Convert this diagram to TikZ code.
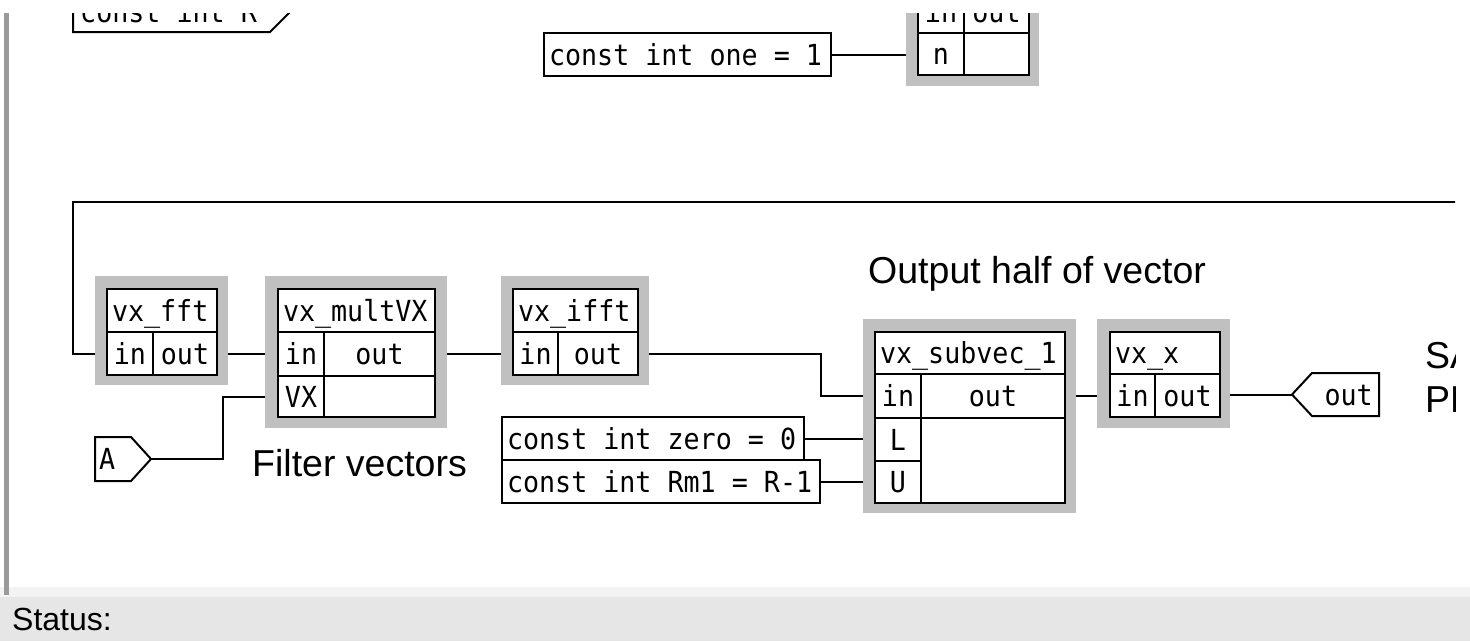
\documentclass[tikz,border=0pt]{standalone}
\usepackage{fontspec}
\newfontfamily\pxmono[FakeStretch=0.92]{DejaVu Sans Mono}
\newfontfamily\pxsans{Liberation Sans}
\newcommand\mspc{\char"A0\relax}
\usetikzlibrary{calc}
\definecolor{shade}{HTML}{C0C0C0}
\definecolor{statusbg}{HTML}{E6E6E6}
\definecolor{bandbg}{HTML}{F3F3F3}
\definecolor{barcol}{HTML}{9A9A9A}
\tikzset{
 shadowbox/.style={fill=shade, draw=none, inner sep=0pt, anchor=north west},
 cellbase/.style={draw=black, line width=2pt, fill=white, anchor=north west, font=\fontsize{29pt}{32pt}\pxmono, text height=21pt, text depth=0pt},
 cellL/.style={cellbase, inner xsep=5pt, inner ysep=0pt, align=left},
 cellC/.style={cellbase, inner sep=0pt},
 wire/.style={line width=2pt, draw=black},
 portline/.style={line width=2pt, draw=black, line join=miter},
 monotext/.style={font=\fontsize{29pt}{32pt}\pxmono, inner sep=0pt},
 sanslabel/.style={font=\fontsize{37.5pt}{40pt}\pxsans, inner sep=0pt},
}
\begin{document}
\begin{tikzpicture}[x=1pt,y=-1pt]
\useasboundingbox (0,0) rectangle (1470,641);
\fill[white] (0,0) rectangle (1470,641);
\fill[bandbg] (0,587) rectangle (1470,597);
\fill[statusbg] (0,597) rectangle (1470,641);
\fill[barcol] (4,13) rectangle (9,595);
\node[font=\fontsize{32pt}{35pt}\pxsans, anchor=base west, inner sep=0pt] (status) at (12,630) {Status:};
\begin{scope}
\clip (9,13) rectangle (1455,587);
% top-left constant (cut off)
\draw[portline] (73,-30) -- (73,32) -- (270,32) -- (302,0);
\node[monotext, anchor=base west] (constR) at (80,22) {const\mspc int\mspc R};
% const one
\node[cellL, text width=277pt, minimum height=43pt] (one) at (543,32) {const\mspc int\mspc one\mspc =\mspc 1};
% top block (cut off)
\node[shadowbox, minimum width=133pt, minimum height=130pt] (top) at (906,-44) {};
\node[cellC, minimum width=46pt, minimum height=42pt] (topIn) at (917,-10) {in};
\node[cellC, minimum width=65pt, minimum height=42pt] (topOut) at (963,-10) {out};
\node[cellC, minimum width=46pt, minimum height=42pt] (topN) at (917,32) {n};
\node[cellC, minimum width=65pt, minimum height=42pt] (topE) at (963,32) {};
\draw[wire] (one.east) -- (top.west |- one.east);
% vx_fft
\node[shadowbox, minimum width=133pt, minimum height=109pt] (fft) at (95,276) {};
\node[cellL, text width=100pt, minimum height=43pt] (fftT) at (106,288) {vx\_fft};
\node[cellC, minimum width=46pt, minimum height=43pt] (fftIn) at (106,331) {in};
\node[cellC, minimum width=64pt, minimum height=43pt] (fftOut) at (152,331) {out};
% vx_multVX
\node[shadowbox, minimum width=182pt, minimum height=152pt] (mult) at (265,276) {};
\node[cellL, text width=147pt, minimum height=43pt] (multT) at (277,288) {vx\_multVX};
\node[cellC, minimum width=46pt, minimum height=44pt] (multIn) at (277,331) {in};
\node[cellC, minimum width=111pt, minimum height=44pt] (multOut) at (323,331) {out};
\node[cellC, minimum width=46pt, minimum height=41pt] (multVX) at (277,375) {VX};
\node[cellC, minimum width=111pt, minimum height=41pt] (multE) at (323,375) {};
% vx_ifft
\node[shadowbox, minimum width=148pt, minimum height=109pt] (ifft) at (501,276) {};
\node[cellL, text width=115pt, minimum height=43pt] (ifftT) at (512,288) {vx\_ifft};
\node[cellC, minimum width=45pt, minimum height=43pt] (ifftIn) at (512,331) {in};
\node[cellC, minimum width=80pt, minimum height=43pt] (ifftOut) at (557,331) {out};
% vx_subvec_1
\node[shadowbox, minimum width=213pt, minimum height=194pt] (sub) at (863,319) {};
\node[cellL, text width=180pt, minimum height=42pt] (subT) at (874,331) {vx\_subvec\_1};
\node[cellC, minimum width=46pt, minimum height=44pt] (subIn) at (874,373) {in};
\node[cellC, minimum width=144pt, minimum height=44pt] (subOut) at (920,373) {out};
\node[cellC, minimum width=46pt, minimum height=43pt] (subL) at (874,417) {L};
\node[cellC, minimum width=46pt, minimum height=42pt] (subU) at (874,460) {U};
\node[cellC, minimum width=144pt, minimum height=85pt] (subE) at (920,417) {};
% vx_x
\node[shadowbox, minimum width=133pt, minimum height=109pt] (vxx) at (1097,319) {};
\node[cellL, text width=100pt, minimum height=42pt] (vxxT) at (1109,331) {vx\_x};
\node[cellC, minimum width=45pt, minimum height=43pt] (vxxIn) at (1109,373) {in};
\node[cellC, minimum width=65pt, minimum height=43pt] (vxxOut) at (1154,373) {out};
% constants
\node[cellL, text width=292pt, minimum height=43pt] (zero) at (501,416) {const\mspc int\mspc zero\mspc =\mspc 0};
\node[cellL, text width=308pt, minimum height=43pt] (rm) at (501,459) {const\mspc int\mspc Rm1\mspc =\mspc R-1};
% input port A
\coordinate (Atip) at (151,459);
\draw[portline, fill=white] (95,437) -- (131,437) -- (Atip) -- (131,481) -- (95,481) -- cycle;
\node[monotext, anchor=base west] (A) at (99,469.5) {A};
% output port out
\coordinate (outtip) at (1292,394.5);
\draw[portline, fill=white] (outtip) -- (1312,373) -- (1379,373) -- (1379,416) -- (1312,416) -- cycle;
\node[monotext, anchor=base east] (outp) at (1373,405) {out};
% labels
\node[sanslabel, anchor=base west] (outlbl) at (868,283) {Output half of vector};
\node[sanslabel, anchor=base west] (filt) at (252,476) {Filter vectors};
\node[sanslabel, anchor=base west] (sa) at (1425,368) {SA};
\node[sanslabel, anchor=base west] (pf) at (1425,412) {PF};
% wires
\coordinate (loopL) at (73,202);
\coordinate (loopR) at (1500,202);
\draw[wire] (fft.west |- fftIn.center) -| (loopL) -- (loopR);
\draw[wire] (fft.east |- fftOut.center) -- (mult.west |- fftOut.center);
\draw[wire] (Atip) -- ++(72,0) |- (mult.west |- multVX.center);
\draw[wire] (mult.east |- multOut.center) -- (ifft.west |- multOut.center);
\draw[wire] (ifft.east |- ifftOut.center) -- ++(172,0) |- (sub.west |- subIn.center);
\draw[wire] (zero.east) -- (sub.west |- zero.east);
\draw[wire] (rm.east) -- (sub.west |- rm.east);
\draw[wire] (sub.east |- subOut.center) -- (vxx.west |- subOut.center);
\draw[wire] (vxx.east |- outtip) -- (outtip);
\end{scope}
\end{tikzpicture}
\end{document}
